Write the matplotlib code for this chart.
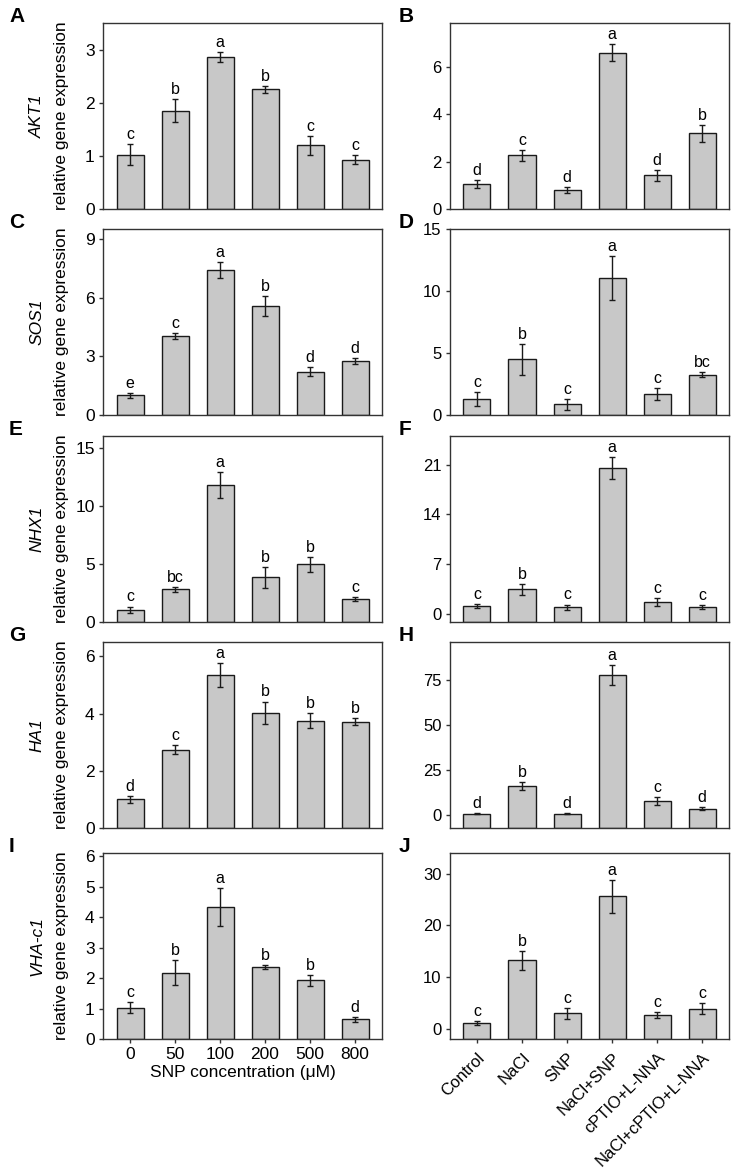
import numpy as np
import matplotlib
matplotlib.use('Agg')
import matplotlib.pyplot as plt

plt.rcParams['font.family'] = ['Liberation Sans', 'DejaVu Sans']
plt.rcParams['font.size'] = 12

# categories
snp_conc = ['0', '50', '100', '200', '500', '800']
treatments = ['Control', 'NaCl', 'SNP', 'NaCl+SNP', 'cPTIO+L-NNA', 'NaCl+cPTIO+L-NNA']
genes = ['AKT1', 'SOS1', 'NHX1', 'HA1', 'VHA-c1']

# left column: SNP dose response (mean, sd, letters)
akt1_dose = [1.02, 1.85, 2.86, 2.25, 1.20, 0.93]
akt1_dose_err = [0.20, 0.22, 0.10, 0.07, 0.18, 0.09]
akt1_dose_sig = ['c', 'b', 'a', 'b', 'c', 'c']

sos1_dose = [1.00, 4.05, 7.40, 5.58, 2.22, 2.75]
sos1_dose_err = [0.13, 0.15, 0.42, 0.50, 0.25, 0.16]
sos1_dose_sig = ['e', 'c', 'a', 'b', 'd', 'd']

nhx1_dose = [1.05, 2.80, 11.8, 3.85, 4.95, 1.97]
nhx1_dose_err = [0.28, 0.20, 1.10, 0.90, 0.65, 0.20]
nhx1_dose_sig = ['c', 'bc', 'a', 'b', 'b', 'c']

ha1_dose = [1.00, 2.73, 5.33, 4.02, 3.75, 3.72]
ha1_dose_err = [0.11, 0.16, 0.42, 0.40, 0.27, 0.12]
ha1_dose_sig = ['d', 'c', 'a', 'b', 'b', 'b']

vha_dose = [1.02, 2.18, 4.33, 2.35, 1.92, 0.64]
vha_dose_err = [0.18, 0.40, 0.62, 0.07, 0.19, 0.08]
vha_dose_sig = ['c', 'b', 'a', 'b', 'b', 'd']

# right column: treatments
akt1_trt = [1.05, 2.27, 0.80, 6.60, 1.42, 3.20]
akt1_trt_err = [0.18, 0.23, 0.12, 0.35, 0.22, 0.36]
akt1_trt_sig = ['d', 'c', 'd', 'a', 'd', 'b']

sos1_trt = [1.30, 4.50, 0.85, 11.05, 1.70, 3.25]
sos1_trt_err = [0.55, 1.25, 0.45, 1.75, 0.50, 0.20]
sos1_trt_sig = ['c', 'b', 'c', 'a', 'c', 'bc']

nhx1_trt = [1.10, 3.50, 1.00, 20.5, 1.70, 1.00]
nhx1_trt_err = [0.30, 0.75, 0.35, 1.50, 0.50, 0.30]
nhx1_trt_sig = ['c', 'b', 'c', 'a', 'c', 'c']

ha1_trt = [1.0, 16.0, 1.0, 77.8, 7.9, 3.6]
ha1_trt_err = [0.5, 2.2, 0.5, 5.5, 2.0, 0.9]
ha1_trt_sig = ['d', 'b', 'd', 'a', 'c', 'd']

vha_trt = [1.1, 13.2, 3.0, 25.6, 2.7, 3.9]
vha_trt_err = [0.45, 1.75, 1.05, 3.2, 0.55, 1.0]
vha_trt_sig = ['c', 'b', 'c', 'a', 'c', 'c']

left_data = [(akt1_dose, akt1_dose_err, akt1_dose_sig), (sos1_dose, sos1_dose_err, sos1_dose_sig),
             (nhx1_dose, nhx1_dose_err, nhx1_dose_sig), (ha1_dose, ha1_dose_err, ha1_dose_sig),
             (vha_dose, vha_dose_err, vha_dose_sig)]
right_data = [(akt1_trt, akt1_trt_err, akt1_trt_sig), (sos1_trt, sos1_trt_err, sos1_trt_sig),
              (nhx1_trt, nhx1_trt_err, nhx1_trt_sig), (ha1_trt, ha1_trt_err, ha1_trt_sig),
              (vha_trt, vha_trt_err, vha_trt_sig)]

left_ylim = [(0, 3.5), (0, 9.5), (0, 16), (0, 6.5), (0, 6.1)]
left_ticks = [[0, 1, 2, 3], [0, 3, 6, 9], [0, 5, 10, 15], [0, 2, 4, 6], [0, 1, 2, 3, 4, 5, 6]]
right_ylim = [(0, 7.85), (0, 15), (-1.1, 25), (-7, 96), (-2, 34)]
right_ticks = [[0, 2, 4, 6], [0, 5, 10, 15], [0, 7, 14, 21], [0, 25, 50, 75], [0, 10, 20, 30]]

left_letters = ['A', 'C', 'E', 'G', 'I']
right_letters = ['B', 'D', 'F', 'H', 'J']

W, H = 734, 1175
fig = plt.figure(figsize=(W / 100, H / 100), dpi=100)

bar_col = '#c8c8c8'
edge_col = '#1a1a1a'
spine_col = '#333333'
x = np.arange(6)


def draw_panel(ax, vals, errs, sig, ylim, ticks, fs):
    # bars start at the bottom of the axis, like the original Origin plots
    base = ylim[0]
    heights = [v - base for v in vals]
    ax.bar(x, heights, bottom=base, width=0.6, color=bar_col, edgecolor=edge_col,
           linewidth=1, yerr=errs, capsize=2.5,
           error_kw=dict(elinewidth=1, capthick=1, ecolor=edge_col))
    for xi, v, e, s in zip(x, vals, errs, sig):
        ax.annotate(s, (xi, v + e), xytext=(0, 1.5), textcoords='offset points',
                    ha='center', va='bottom', fontsize=11.5)
    ax.set_xlim(-0.6, 5.6)
    ax.set_ylim(*ylim)
    ax.set_yticks(ticks)
    ax.tick_params(axis='y', direction='out', length=3, width=1, color=spine_col,
                   labelsize=fs, pad=3)
    ax.set_xticks([])
    for sp in ax.spines.values():
        sp.set_color(spine_col)
        sp.set_linewidth(1)


tops = [23, 229, 436, 642, 853]
ph = 186
for i in range(5):
    top = tops[i]
    bottom = 1 - (top + ph) / H

    axl = fig.add_axes([103 / W, bottom, 279 / W, ph / H])
    draw_panel(axl, *left_data[i], left_ylim[i], left_ticks[i], 12.5)
    axl.text(-0.237, 0.5, genes[i], transform=axl.transAxes, rotation=90,
             ha='center', va='center', fontsize=12.5, style='italic')
    axl.text(-0.147, 0.5, 'relative gene expression', transform=axl.transAxes,
             rotation=90, ha='center', va='center', fontsize=12.5)
    fig.text(9 / W, 1 - (top - 16) / H, left_letters[i], fontsize=15,
             fontweight='bold', ha='left', va='top')

    axr = fig.add_axes([450 / W, bottom, 279 / W, ph / H])
    draw_panel(axr, *right_data[i], right_ylim[i], right_ticks[i], 12)
    fig.text(399 / W, 1 - (top - 16) / H, right_letters[i], fontsize=15,
             fontweight='bold', ha='left', va='top')

    if i == 4:
        axl.set_xticks(x)
        axl.set_xticklabels(snp_conc, fontsize=12.5)
        axl.tick_params(axis='x', direction='out', length=3, width=1, color=spine_col, pad=3)
        axl.set_xlabel('SNP concentration (\u03bcM)', fontsize=12.5, labelpad=2)

        axr.set_xticks(x)
        axr.set_xticklabels(treatments, fontsize=12, rotation=45, ha='right',
                            rotation_mode='anchor')
        axr.tick_params(axis='x', direction='out', length=3, width=1, color=spine_col, pad=5)

fig.savefig('out.png', dpi=100)
